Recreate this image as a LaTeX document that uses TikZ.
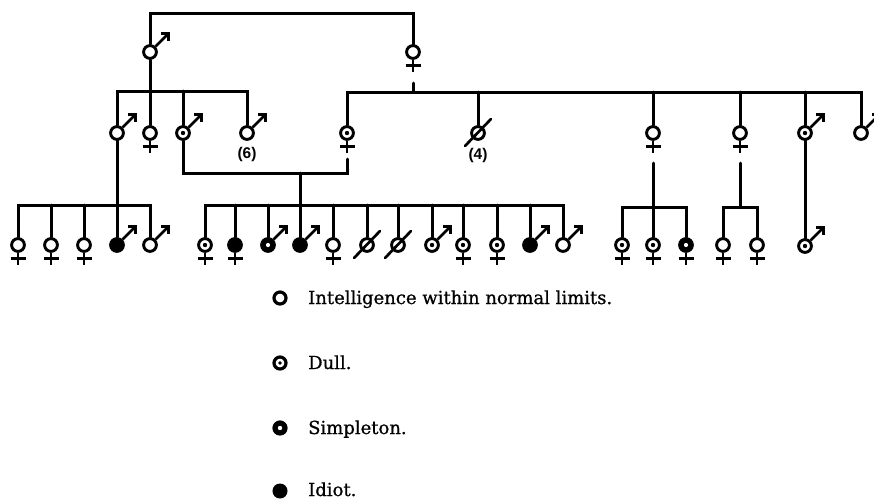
\documentclass[tikz,border=0pt]{standalone}
\usepackage{fontspec}
\setmainfont{DejaVu Serif}[FakeBold=0.8]
\newfontfamily\labelfont{Liberation Sans}
\begin{document}
\begin{tikzpicture}[x=1pt,y=-1pt,
  line/.style={line width=3pt,line cap=round},
  person/.style={circle,draw,line width=2.9pt,minimum size=12.8pt,inner sep=0pt,fill=white},
  normal/.style={person},
  dull/.style={person,path picture={\fill[black] (path picture bounding box.center) circle (2.2pt);}},
  simpleton/.style={person,fill=black,path picture={\fill[white] (path picture bounding box.center) circle (2.1pt);}},
  idiot/.style={person,fill=black},
  unknown/.style={person},
  sexmark/.style={line width=2.7pt},
  keybox/.style={circle,draw,line width=3.2pt,minimum size=12pt,inner sep=0pt},
  keytext/.style={anchor=base west,inner sep=0pt,font=\fontsize{18}{21}\selectfont},
  count/.style={font=\labelfont\bfseries\fontsize{15.5}{17}\selectfont,inner sep=0pt}
]
\useasboundingbox (0,0) rectangle (874,499);

% ---- first generation
\node[normal] (gf) at (150,52) {};
\node[normal] (gm) at (413,52) {};

% ---- second generation, husband's side
\node[normal] (a1) at (117,133) {};
\node[normal] (a2) at (150,133) {};
\node[dull]   (a3) at (183,133) {};
\node[normal] (a4) at (247,133) {};
\node[count] (n6) at (247,154) {(6)};

% ---- second generation, wife's side
\node[dull]    (b1) at (347,133) {};
\node[unknown] (b2) at (478,133) {};
\node[count] (n4) at (478,155) {(4)};
\node[normal]  (b3) at (653,133) {};
\node[normal]  (b4) at (740,133) {};
\node[dull]    (b5) at (805,133) {};
\node[normal]  (b6) at (861,133) {};

% ---- third generation
\node[normal] (c1) at (18,245) {};
\node[normal] (c2) at (51,245) {};
\node[normal] (c3) at (84,245) {};
\node[idiot]  (c4) at (117,245) {};
\node[normal] (c5) at (150,245) {};

\node[dull]      (d1)  at (205,245) {};
\node[idiot]     (d2)  at (235,245) {};
\node[simpleton] (d3)  at (268,245) {};
\node[idiot]     (d4)  at (300,245) {};
\node[normal]    (d5)  at (333,245) {};
\node[unknown]   (d6)  at (367,245) {};
\node[unknown]   (d7)  at (398,245) {};
\node[dull]      (d8)  at (432,245) {};
\node[dull]      (d9)  at (463,245) {};
\node[dull]      (d10) at (497,245) {};
\node[idiot]     (d11) at (530,245) {};
\node[normal]    (d12) at (563,245) {};

\node[dull]      (e1) at (622,245) {};
\node[dull]      (e2) at (653,245) {};
\node[simpleton] (e3) at (686,245) {};

\node[normal] (f1) at (723,245) {};
\node[normal] (f2) at (757,245) {};

\node[dull] (g1) at (805,246) {};

% ---- junction points
\coordinate (top) at (280,13);
\coordinate (s2l) at (117,91);
\coordinate (s2r) at (247,91);
\coordinate (gms) at (413,83);
\coordinate (s3l) at (347,92);
\coordinate (s3r) at (861,92);
\coordinate (w1) at (347,159);
\coordinate (k1) at (300,173);
\coordinate (sAl) at (18,205);
\coordinate (sAr) at (150,205);
\coordinate (sBl) at (205,205);
\coordinate (sBr) at (563,205);
\coordinate (w3) at (653,163);
\coordinate (sCl) at (622,207);
\coordinate (sCr) at (686,207);
\coordinate (w4) at (740,163);
\coordinate (sDm) at (740,207);
\coordinate (sDl) at (723,207);
\coordinate (sDr) at (757,207);

% ---- connectors
\begin{scope}[line]
\draw (gf) |- (top) -| (gm);
\draw (gf) -- (a2);
\draw (a1) -- (s2l) -- (s2r) -- (a4);
\draw (a3) -- (a3 |- s2l);
\draw (gms) -- (gms |- s3l);
\draw (b1) -- (s3l) -- (s3r) -- (b6);
\foreach \n in {b2,b3,b4,b5} \draw (\n) -- (\n |- s3l);
\draw (a3) |- (k1) -| (w1);
\draw (k1) -- (d4);
\draw (a1) -- (c4);
\draw (c1) -- (sAl) -- (sAr) -- (c5);
\foreach \n in {c2,c3} \draw (\n) -- (\n |- sAl);
\draw (d1) -- (sBl) -- (sBr) -- (d12);
\foreach \n in {d2,d3,d5,d6,d7,d8,d9,d10,d11} \draw (\n) -- (\n |- sBl);
\draw (w3) -- (e2);
\draw (e1) -- (sCl) -- (sCr) -- (e3);
\draw (w4) -- (sDm);
\draw (f1) -- (sDl) -- (sDr) -- (f2);
\draw (b5) -- (g1);
\end{scope}

% ---- sex marks
\foreach \n in {gf,a1,a3,a4,b5,b6,c4,c5,d3,d4,d8,d11,d12,g1}
  \draw[sexmark,line cap=butt,line join=miter] (\n.45) -- ++(13,-13) ++(-7.5,0) -- ++(7.5,0) -- ++(0,7.5);
\foreach \n in {gm,a2,b1,b3,b4,c1,c2,c3,d1,d2,d5,d9,d10,e1,e2,e3,f1,f2}
  \draw[sexmark,line cap=butt] (\n.south) -- ++(0,12) ([xshift=-7.5pt,yshift=-5.5pt]\n.south) -- ++(15,0);
\foreach \n in {b2,d6,d7}
  \draw[sexmark,line cap=round] ([shift={(-13pt,-13pt)}]\n.center) -- ([shift={(13pt,14pt)}]\n.center);

% ---- key
\node[keybox] (k-normal) at (280,298) {};
\node[keybox,path picture={\fill[black] (path picture bounding box.center) circle (1.8pt);}] (k-dull) at (280,363) {};
\node[keybox,fill=black,path picture={\fill[white] (path picture bounding box.center) circle (2.2pt);}] (k-simple) at (280,428) {};
\node[keybox,fill=black,line width=1pt,minimum size=14pt] (k-idiot) at (280,491) {};
\node[keytext] (t-normal) at (308,304) {Intelligence within normal limits.};
\node[keytext] (t-dull) at (308,369) {Dull.};
\node[keytext] (t-simple) at (308,434) {Simpleton.};
\node[keytext] (t-idiot) at (308,496) {Idiot.};
\end{tikzpicture}
\end{document}
